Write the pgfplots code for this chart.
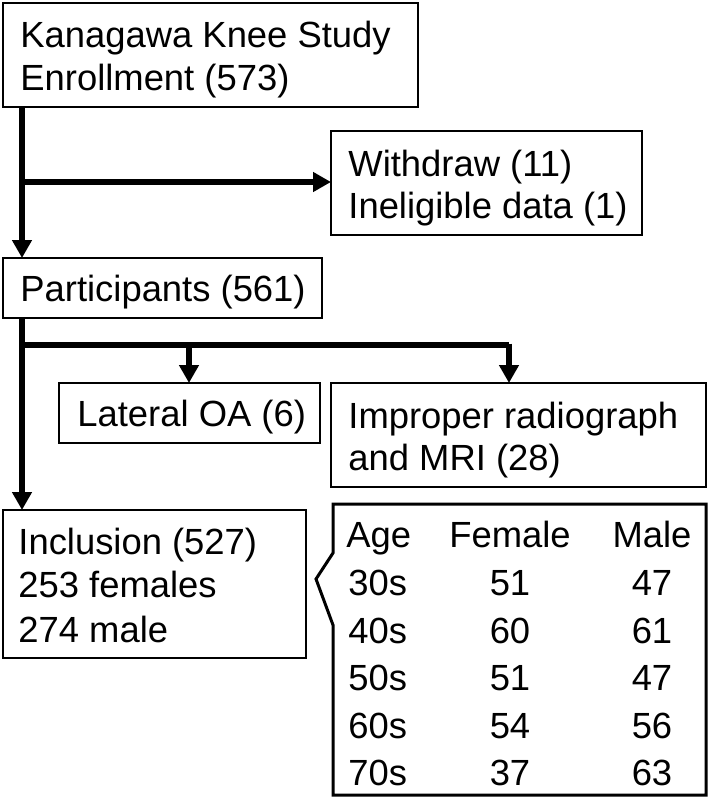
\documentclass[border=0pt]{standalone}
\usepackage{pgfplots}
\pgfplotsset{compat=1.18}
\usepackage{pgfplotstable}
\usepackage{fontspec}
\setmainfont{Liberation Sans}
\usetikzlibrary{arrows.meta}
\newcommand\F{\fontsize{18.2pt}{21.5pt}\selectfont}

\pgfplotstableread{
x y lab
346 547 Age
348 595 30s
348 643 40s
348 690 50s
348 738 60s
348 785 70s
}\agecol
\pgfplotstableread{
x y lab
510 547 Female
510 595 51
510 643 60
510 690 51
510 738 54
510 785 37
}\femcol
\pgfplotstableread{
x y lab
652 547 Male
652 595 47
652 643 61
652 690 47
652 738 56
652 785 63
}\malecol

\begin{document}
\begin{tikzpicture}[
  arr/.style={line width=3.2pt, -{Triangle[length=9pt,width=9.5pt]}},
  ln/.style={line width=3.2pt},
  box/.style={line width=1pt},
  txt/.style={anchor=base west, inner sep=0pt, font=\F}]
\begin{axis}[
  width=354.5pt, height=399.5pt, scale only axis,
  xmin=0, xmax=709, ymin=0, ymax=799, y dir=reverse,
  hide axis, clip=false]
\path (axis cs:0,0) rectangle (axis cs:709,799);

% boxes
\draw[box] (axis cs:3,3) rectangle (axis cs:418,107);
\draw[box] (axis cs:331,131) rectangle (axis cs:642,235);
\draw[box] (axis cs:3,258) rectangle (axis cs:322,318);
\draw[box] (axis cs:59,383) rectangle (axis cs:320,443);
\draw[box] (axis cs:331,383) rectangle (axis cs:706,487);
\draw[box] (axis cs:3,510) rectangle (axis cs:306,658);
\draw[line width=1.5pt, line join=miter] (axis cs:333,504) -- (axis cs:706,504) -- (axis cs:706,795) -- (axis cs:333,795) -- (axis cs:333,625) -- (axis cs:316,579) -- (axis cs:333,553) -- cycle;

% connectors
\draw[arr] (axis cs:22,107) -- (axis cs:22,258);
\draw[arr] (axis cs:22,182) -- (axis cs:331,182);
\draw[arr] (axis cs:22,318) -- (axis cs:22,510);
\draw[ln] (axis cs:22,345) -- (axis cs:509,345);
\draw[arr] (axis cs:189,343.5) -- (axis cs:189,383);
\draw[arr] (axis cs:509,343.5) -- (axis cs:509,383);

% box texts
\node[txt] at (axis cs:20,47) {Kanagawa Knee Study};
\node[txt] at (axis cs:20,90) {Enrollment (573)};
\node[txt] at (axis cs:348,176) {Withdraw (11)};
\node[txt] at (axis cs:348,218) {Ineligible data (1)};
\node[txt] at (axis cs:20,301) {Participants (561)};
\node[txt] at (axis cs:77,426) {Lateral OA (6)};
\node[txt] at (axis cs:348,428) {Improper radiograph};
\node[txt] at (axis cs:348,470) {and MRI (28)};
\node[txt] at (axis cs:18,554) {Inclusion (527)};
\node[txt] at (axis cs:18,597) {253 females};
\node[txt] at (axis cs:18,642) {274 male};

% table
\addplot[draw=none, mark=none, nodes near coords, point meta=explicit symbolic,
  every node near coord/.style={anchor=base west, inner sep=0pt, font=\F}]
  table[x=x, y=y, meta=lab] {\agecol};
\addplot[draw=none, mark=none, nodes near coords, point meta=explicit symbolic,
  every node near coord/.style={anchor=base, inner sep=0pt, font=\F}]
  table[x=x, y=y, meta=lab] {\femcol};
\addplot[draw=none, mark=none, nodes near coords, point meta=explicit symbolic,
  every node near coord/.style={anchor=base, inner sep=0pt, font=\F}]
  table[x=x, y=y, meta=lab] {\malecol};
\end{axis}
\end{tikzpicture}
\end{document}
